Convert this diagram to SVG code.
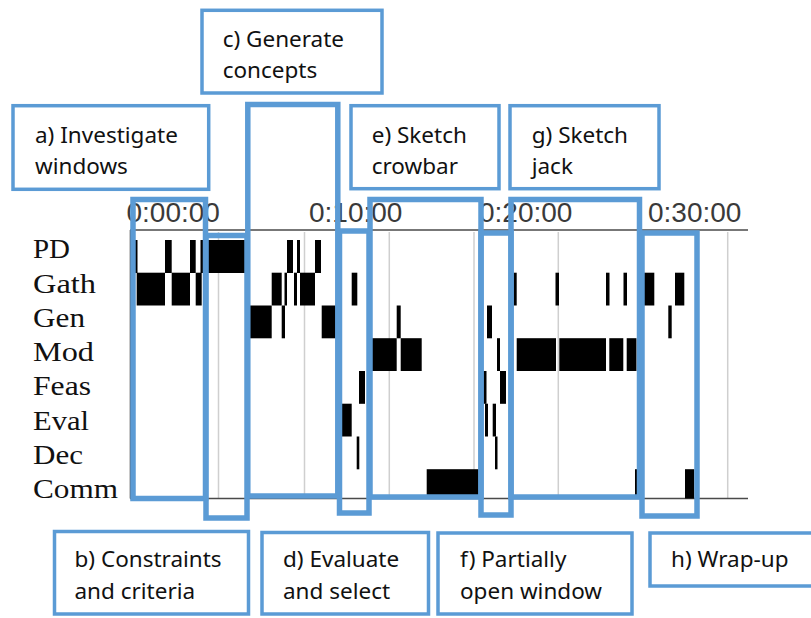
<svg xmlns="http://www.w3.org/2000/svg" width="811" height="618" viewBox="0 0 811 618">
  <style>
    .callout rect { fill: #ffffff; stroke: #5B9BD5; stroke-width: 3.5; }
    .callout text { font-family: "Noto Sans", "Liberation Sans", sans-serif; font-size: 22.5px; fill: #111111; }
    .phase { fill: none; stroke: #5B9BD5; stroke-width: 5.5; }
    .grid { stroke: #cfcfcf; stroke-width: 1.5; }
    .axis { stroke: #4a4a4a; stroke-width: 1.6; }
    .time { font-family: "Liberation Sans", Arial, sans-serif; font-size: 28px; fill: #3a3a3a; }
    .row { font-family: "Liberation Serif", "Times New Roman", serif; font-size: 27px; fill: #111111; }
    .bar rect { fill: #000000; }
  </style>

  <!-- Activity timeline chart -->
  <g id="chart">
    <!-- vertical gridlines every 5 minutes -->
    <g id="gridlines">
      <line class="grid" x1="218.5" y1="232" x2="218.5" y2="498"/>
      <line class="grid" x1="304.5" y1="232" x2="304.5" y2="498"/>
      <line class="grid" x1="389.3" y1="232" x2="389.3" y2="498"/>
      <line class="grid" x1="474" y1="232" x2="474" y2="498"/>
      <line class="grid" x1="558.3" y1="232" x2="558.3" y2="498"/>
      <line class="grid" x1="643" y1="232" x2="643" y2="498"/>
      <line class="grid" x1="727.7" y1="232" x2="727.7" y2="498"/>
    </g>
    <line class="axis" x1="130.5" y1="230" x2="130.5" y2="498.5" stroke="#9a9a9a"/>
    <line class="axis" x1="130" y1="230" x2="748" y2="230"/>
    <line class="axis" x1="130" y1="498.5" x2="748" y2="498.5"/>

    <!-- time scale -->
    <g id="time-labels">
      <text class="time" x="126.5" y="221.5">0:00:00</text>
      <text class="time" x="309" y="221.5">0:10:00</text>
      <text class="time" x="479" y="221.5">0:20:00</text>
      <text class="time" x="648" y="221.5">0:30:00</text>
    </g>

    <!-- activity rows -->
    <g id="row-labels">
      <text class="row" x="33" y="258" textLength="37" lengthAdjust="spacingAndGlyphs">PD</text>
      <text class="row" x="33" y="293" textLength="63" lengthAdjust="spacingAndGlyphs">Gath</text>
      <text class="row" x="33" y="327" textLength="52" lengthAdjust="spacingAndGlyphs">Gen</text>
      <text class="row" x="33" y="361" textLength="61" lengthAdjust="spacingAndGlyphs">Mod</text>
      <text class="row" x="33" y="395" textLength="58" lengthAdjust="spacingAndGlyphs">Feas</text>
      <text class="row" x="33" y="430" textLength="56" lengthAdjust="spacingAndGlyphs">Eval</text>
      <text class="row" x="33" y="464" textLength="50" lengthAdjust="spacingAndGlyphs">Dec</text>
      <text class="row" x="33" y="498" textLength="85" lengthAdjust="spacingAndGlyphs">Comm</text>
    </g>

    <!-- activity segments -->
    <g class="bar" id="bars">
      <!-- PD -->
      <rect x="135" y="240" width="2.5" height="33"/>
      <rect x="165" y="240" width="6.7" height="33"/>
      <rect x="190" y="240" width="5.7" height="33"/>
      <rect x="200.5" y="240" width="3.5" height="33"/>
      <rect x="205" y="240" width="40" height="33"/>
      <rect x="287" y="240" width="6" height="33"/>
      <rect x="297" y="240" width="3" height="33"/>
      <rect x="315" y="240" width="6" height="33"/>
      <!-- Gath -->
      <rect x="136.7" y="272.7" width="28.3" height="32.8"/>
      <rect x="171.7" y="272.7" width="18.3" height="32.8"/>
      <rect x="195.7" y="272.7" width="6" height="32.8"/>
      <rect x="271.7" y="272.7" width="10" height="32.8"/>
      <rect x="284.5" y="272.7" width="2.5" height="32.8"/>
      <rect x="294" y="272.7" width="3" height="32.8"/>
      <rect x="300" y="272.7" width="15" height="32.8"/>
      <rect x="351.7" y="272.7" width="5.6" height="32.8"/>
      <rect x="513.3" y="272.7" width="3.4" height="32.8"/>
      <rect x="555.5" y="272.7" width="3.5" height="32.8"/>
      <rect x="606" y="272.7" width="3.5" height="32.8"/>
      <rect x="623.5" y="272.7" width="3.5" height="32.8"/>
      <rect x="643" y="272.7" width="11.3" height="32.8"/>
      <rect x="675" y="272.7" width="9.3" height="32.8"/>
      <!-- Gen -->
      <rect x="248" y="305.5" width="23.7" height="32.8"/>
      <rect x="281.7" y="305.5" width="3.3" height="32.8"/>
      <rect x="321.7" y="305.5" width="14.3" height="32.8"/>
      <rect x="396.7" y="305.5" width="4" height="32.8"/>
      <rect x="487" y="305.5" width="5" height="32.8"/>
      <rect x="668.3" y="305.5" width="3.4" height="32.8"/>
      <!-- Mod -->
      <rect x="368" y="338.2" width="28.7" height="32.8"/>
      <rect x="400.7" y="338.2" width="21" height="32.8"/>
      <rect x="497" y="338.2" width="3" height="32.8"/>
      <rect x="516.7" y="338.2" width="39.3" height="32.8"/>
      <rect x="559.3" y="338.2" width="46.7" height="32.8"/>
      <rect x="609.3" y="338.2" width="14" height="32.8"/>
      <rect x="626.7" y="338.2" width="9.8" height="32.8"/>
      <!-- Feas -->
      <rect x="359" y="371" width="6" height="32.8"/>
      <rect x="483" y="371" width="3.5" height="32.8"/>
      <rect x="500" y="371" width="6" height="32.8"/>
      <!-- Eval -->
      <rect x="340" y="403.7" width="11.7" height="32.8"/>
      <rect x="485" y="403.7" width="3" height="32.8"/>
      <rect x="492.7" y="403.7" width="3.3" height="32.8"/>
      <!-- Dec -->
      <rect x="356.7" y="436.5" width="2.6" height="32.8"/>
      <rect x="495" y="436.5" width="2.5" height="32.8"/>
      <!-- Comm -->
      <rect x="426.7" y="469.2" width="53" height="29.3"/>
      <rect x="635" y="469.2" width="2.7" height="29.3"/>
      <rect x="685" y="469.2" width="9.3" height="29.3"/>
    </g>
  </g>

  <!-- Phase brackets over the timeline -->
  <g id="phases">
    <rect id="phase-a" class="phase" x="133" y="199.5" width="72.5" height="299"/>
    <rect id="phase-b" class="phase" x="206" y="235.5" width="41" height="282.5"/>
    <rect id="phase-c" class="phase" x="247.8" y="104.5" width="90" height="391.5"/>
    <rect id="phase-d" class="phase" x="339.5" y="231" width="29.5" height="282"/>
    <rect id="phase-e" class="phase" x="370" y="199.5" width="111" height="297.5"/>
    <rect id="phase-f" class="phase" x="481" y="233" width="30" height="282"/>
    <rect id="phase-g" class="phase" x="511" y="199.5" width="128.5" height="297.5"/>
    <rect id="phase-h" class="phase" x="642" y="233" width="55" height="283"/>
  </g>

  <!-- Phase callouts -->
  <g id="callout-a" class="callout">
    <rect x="13" y="105.7" width="195.7" height="83.6"/>
    <text x="35" y="143">a) Investigate</text>
    <text x="35" y="174">windows</text>
  </g>
  <g id="callout-c" class="callout">
    <rect x="202" y="10.3" width="180" height="82.7"/>
    <text x="222.7" y="47">c) Generate</text>
    <text x="222.7" y="78">concepts</text>
  </g>
  <g id="callout-e" class="callout">
    <rect x="351" y="105.7" width="148" height="83"/>
    <text x="371.7" y="143">e) Sketch</text>
    <text x="371.7" y="174">crowbar</text>
  </g>
  <g id="callout-g" class="callout">
    <rect x="510" y="105.7" width="149" height="83"/>
    <text x="531.7" y="143">g) Sketch</text>
    <text x="531.7" y="173.5">jack</text>
  </g>
  <g id="callout-b" class="callout">
    <rect x="54.5" y="531.5" width="194" height="82.5"/>
    <text x="74.5" y="567">b) Constraints</text>
    <text x="74.5" y="599">and criteria</text>
  </g>
  <g id="callout-d" class="callout">
    <rect x="262" y="532.5" width="166.5" height="81.5"/>
    <text x="283" y="567">d) Evaluate</text>
    <text x="283" y="599">and select</text>
  </g>
  <g id="callout-f" class="callout">
    <rect x="438" y="533" width="194" height="81"/>
    <text x="460" y="567">f) Partially</text>
    <text x="460" y="599">open window</text>
  </g>
  <g id="callout-h" class="callout">
    <rect x="650" y="533" width="165" height="53"/>
    <text x="671" y="567">h) Wrap-up</text>
  </g>
</svg>
